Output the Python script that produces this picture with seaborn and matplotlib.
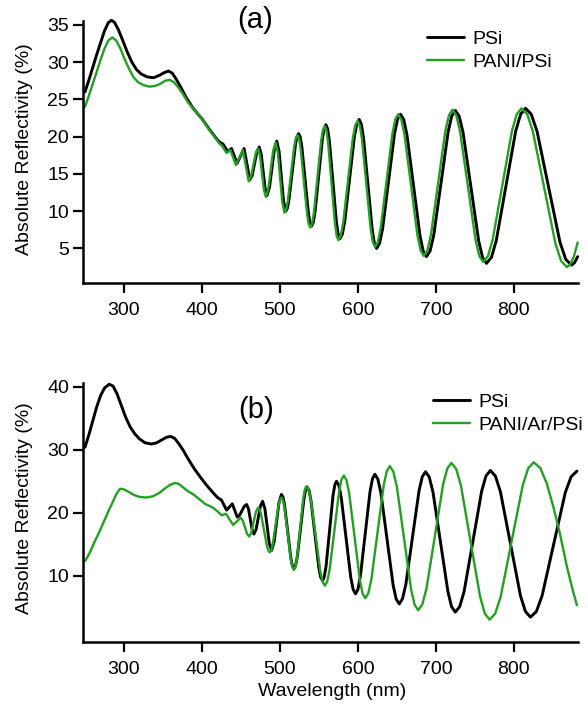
import matplotlib
matplotlib.use('Agg')
import matplotlib.pyplot as plt
import seaborn as sns

# (wavelength nm, reflectivity %)
a_psi = [
    (250, 26.0), (255, 27.6), (260, 29.3), (265, 31.0), (270, 32.6), (275, 34.2), (280, 35.3), (284, 35.6),
    (288, 35.3), (293, 34.3), (298, 33.0), (304, 31.4), (310, 30.0), (316, 29.0), (322, 28.4), (330, 28.0),
    (338, 27.9), (345, 28.2), (352, 28.6), (357, 28.8), (362, 28.5), (367, 27.7), (373, 26.6), (380, 25.2),
    (388, 23.9), (395, 23.0), (400, 22.4), (410, 20.9), (418, 19.8), (422, 19.3), (427, 19.0),
    (433, 18.0), (438, 18.4), (441.5, 17.4), (445, 16.4), (449.5, 17.4), (454, 18.4), (457.7, 16.3), (461.5, 14.2),
    (464.5, 14.8), (467.5, 16.4), (470.5, 18.0), (473.5, 18.6),
    (476, 17.65), (478.5, 15.35), (481, 13.05), (483.5, 12.1),
    (486.6, 13.17), (489.8, 15.75), (492.9, 18.33), (496, 19.4),
    (498.9, 18.03), (501.8, 14.7), (504.6, 11.37), (507.5, 10.0),
    (509.6, 10.4), (511.6, 11.52), (515.8, 15.2), (519.9, 18.88), (521.9, 20.0), (524, 20.4),
    (526.1, 19.93), (528.2, 18.59), (532.3, 14.2), (536.5, 9.81), (538.5, 8.47), (540.6, 8.0),
    (542.9, 8.52), (545.2, 9.99), (549.8, 14.8), (554.4, 19.61), (556.7, 21.08), (559, 21.6),
    (561.3, 21.02), (563.5, 19.37), (568, 13.95), (572.5, 8.53), (574.8, 6.88), (577, 6.3),
    (580.1, 6.91), (583.2, 8.64), (589.4, 14.3), (595.5, 19.96), (598.6, 21.69), (601.7, 22.3),
    (604.5, 21.64), (607.3, 19.77), (612.9, 13.65), (618.4, 7.53), (621.2, 5.66), (624, 5.0),
    (627.8, 5.68), (631.7, 7.63), (639.4, 14.0), (647, 20.37), (650.9, 22.32), (654.7, 23.0),
    (658.9, 22.27), (663, 20.21), (671.4, 13.45), (679.7, 6.69), (683.8, 4.63), (688, 3.9),
    (692.6, 4.64), (697.3, 6.76), (706.5, 13.7), (715.8, 20.64), (720.4, 22.76), (725, 23.5),
    (730, 22.72), (735, 20.51), (745, 13.25), (755, 5.99), (760, 3.78), (765, 3.0),
    (771.3, 3.79), (777.5, 6.04), (790, 13.4), (802.5, 20.76), (808.8, 23.01), (815, 23.8),
    (822.4, 23.0), (829.8, 20.73), (844.5, 13.28), (859.3, 5.82), (866.6, 3.55), (874, 2.75),
    (878, 3.1), (882, 3.9),
]

a_pani = [
    (250, 24.0), (255, 25.5), (260, 27.1), (265, 28.7), (270, 30.3), (275, 31.8), (280, 32.9), (285, 33.3),
    (290, 32.9), (295, 31.9), (300, 30.6), (306, 29.2), (312, 28.0), (318, 27.3), (325, 26.9), (333, 26.7),
    (340, 26.8), (347, 27.1), (353, 27.5), (359, 27.6), (364, 27.3), (369, 26.7), (375, 25.8), (382, 24.6),
    (390, 23.6), (397, 22.8), (403, 21.9), (410, 20.8), (418, 19.7), (422, 19.1), (425.5, 18.8),
    (431.5, 17.8), (436.5, 18.2), (440, 17.2), (443.5, 16.2), (448, 17.2), (452.5, 18.2), (456.3, 16.1), (460, 14.0),
    (463, 14.64), (466, 16.2), (469, 17.76), (472, 18.4),
    (474.5, 17.45), (477, 15.15), (479.5, 12.85), (482, 11.9),
    (485.1, 12.97), (488.3, 15.55), (491.4, 18.13), (494.5, 19.2),
    (497.4, 17.83), (500.3, 14.5), (503.1, 11.17), (506, 9.8),
    (508.1, 10.2), (510.1, 11.32), (514.3, 15.0), (518.4, 18.68), (520.4, 19.8), (522.5, 20.2),
    (524.6, 19.73), (526.6, 18.39), (530.8, 14.0), (534.9, 9.61), (536.9, 8.27), (539, 7.8),
    (541.3, 8.32), (543.6, 9.79), (548.3, 14.6), (552.9, 19.41), (555.2, 20.88), (557.5, 21.4),
    (559.7, 20.82), (561.9, 19.17), (566.3, 13.75), (570.6, 8.33), (572.8, 6.68), (575, 6.1),
    (578.1, 6.71), (581.2, 8.44), (587.4, 14.1), (593.5, 19.76), (596.6, 21.49), (599.7, 22.1),
    (602.5, 21.46), (605.3, 19.63), (610.9, 13.65), (616.4, 7.67), (619.2, 5.84), (622, 5.2),
    (625.7, 5.88), (629.4, 7.8), (636.9, 14.1), (644.3, 20.4), (648, 22.32), (651.7, 23.0),
    (655.8, 22.28), (659.9, 20.23), (668.2, 13.5), (676.4, 6.77), (680.5, 4.72), (684.6, 4.0),
    (689.2, 4.74), (693.8, 6.86), (703, 13.8), (712.2, 20.74), (716.8, 22.86), (721.4, 23.6),
    (726.3, 22.82), (731.2, 20.62), (741.1, 13.4), (750.9, 6.18), (755.8, 3.98), (760.7, 3.2),
    (766.9, 3.98), (773, 6.21), (785.4, 13.5), (797.7, 20.79), (803.8, 23.02), (810, 23.8),
    (817.3, 22.99), (824.5, 20.69), (839, 13.15), (853.5, 5.61), (860.8, 3.31), (868, 2.5),
    (872, 2.8), (877, 3.9), (882, 5.8),
]

b_psi = [
    (250, 30.4), (255, 32.4), (260, 34.6), (265, 36.8), (270, 38.6), (275, 39.8), (281, 40.4), (286, 40.1),
    (291, 38.9), (296, 37.2), (302, 35.2), (308, 33.6), (314, 32.5), (320, 31.7), (327, 31.1), (335, 30.9),
    (342, 31.1), (349, 31.6), (355, 32.0), (360, 32.1), (365, 31.8), (370, 31.0), (376, 29.9), (382, 28.6),
    (390, 27.0), (397, 25.8), (405, 24.5), (414, 23.2), (420, 22.4), (425, 22.0),
    (428.3, 21.2), (431.6, 20.4), (435.3, 20.9), (438.9, 21.4), (442.1, 20.35), (445.3, 19.3),
    (448.3, 19.59), (451.3, 20.3), (454.3, 21.01), (457.3, 21.3),
    (459.7, 20.61), (462, 18.95), (464.4, 17.29), (466.7, 16.6),
    (469.5, 17.36), (472.3, 19.2), (475, 21.04), (477.8, 21.8),
    (480.7, 20.66), (483.6, 17.9), (486.4, 15.14), (489.3, 14.0),
    (492.5, 15.3), (495.7, 18.45), (498.8, 21.6), (502, 22.9),
    (504, 22.45), (506, 21.18), (510, 17.0), (514, 12.82), (516, 11.55), (518, 11.1),
    (520.1, 11.59), (522.3, 12.99), (526.5, 17.58), (530.8, 22.16), (532.9, 23.56), (535, 24.05),
    (537.5, 23.49), (539.9, 21.88), (544.9, 16.63), (549.8, 11.37), (552.2, 9.76), (554.7, 9.2),
    (556.9, 9.8), (559.2, 11.51), (563.7, 17.1), (568.1, 22.69), (570.4, 24.4), (572.6, 25.0),
    (575.7, 24.32), (578.7, 22.39), (584.8, 16.05), (590.9, 9.71), (594, 7.78), (597, 7.1),
    (600.1, 7.82), (603.2, 9.87), (609.4, 16.6), (615.6, 23.33), (618.7, 25.38), (621.8, 26.1),
    (625.7, 25.32), (629.6, 23.09), (637.4, 15.8), (645.2, 8.51), (649.1, 6.28), (653, 5.5),
    (657.2, 6.3), (661.5, 8.57), (669.9, 16.0), (678.4, 23.43), (682.6, 25.7), (686.8, 26.5),
    (691.6, 25.65), (696.4, 23.24), (705.9, 15.35), (715.5, 7.46), (720.2, 5.05), (725, 4.2),
    (730.6, 5.06), (736.3, 7.49), (747.5, 15.45), (758.8, 23.42), (764.4, 25.85), (770, 26.7),
    (776.4, 25.81), (782.9, 23.3), (795.7, 15.05), (808.6, 6.8), (815, 4.29), (821.4, 3.4),
    (828.9, 4.28), (836.3, 6.79), (851.2, 15.0), (866.1, 23.21), (873.6, 25.72), (881, 26.6),
]

b_pani = [
    (250, 12.3), (256, 13.6), (262, 15.3), (269, 17.1), (275, 18.8), (281, 20.5), (286, 21.8), (290, 22.9),
    (295, 23.8), (300, 23.7), (306, 23.3), (313, 22.8), (320, 22.5), (329, 22.4), (337, 22.6), (345, 23.1),
    (352, 23.8), (359, 24.4), (365, 24.7), (370, 24.6), (376, 24.0), (382, 23.4), (389, 22.9), (396, 22.2),
    (404, 21.4), (414, 20.8), (420, 20.2), (425, 19.6), (431, 19.8),
    (435.5, 18.9), (440, 18.05), (444.8, 18.6), (449.5, 19.2),
    (452.3, 18.76), (455.1, 17.7), (457.8, 16.64), (460.6, 16.2),
    (463.5, 16.87), (466.3, 18.5), (469.2, 20.13), (472, 20.8),
    (473.9, 20.53), (475.8, 19.76), (479.5, 17.25), (483.3, 14.74), (485.1, 13.97), (487, 13.7),
    (488.9, 14.03), (490.8, 14.97), (494.5, 18.05), (498.3, 21.13), (500.1, 22.07), (502, 22.4),
    (504, 21.96), (506, 20.72), (510, 16.65), (514, 12.58), (516, 11.34), (518, 10.9),
    (520, 11.41), (522, 12.84), (526, 17.55), (530, 22.26), (532, 23.69), (534, 24.2),
    (537, 23.6), (539.9, 21.89), (545.9, 16.3), (551.8, 10.71), (554.7, 9.0), (557.7, 8.4),
    (560.7, 9.07), (563.8, 10.96), (569.9, 17.15), (575.9, 23.35), (579, 25.24), (582, 25.9),
    (585.4, 25.16), (588.9, 23.05), (595.8, 16.15), (602.6, 9.25), (606.1, 7.14), (609.5, 6.4),
    (613.4, 7.2), (617.4, 9.47), (625.3, 16.9), (633.1, 24.33), (637.1, 26.6), (641, 27.4),
    (645.5, 26.53), (650.1, 24.06), (659.2, 15.95), (668.2, 7.84), (672.8, 5.37), (677.3, 4.5),
    (682.6, 5.39), (688, 7.92), (698.7, 16.2), (709.3, 24.48), (714.7, 27.01), (720, 27.9),
    (726.1, 26.95), (732.3, 24.26), (744.5, 15.45), (756.8, 6.64), (762.9, 3.95), (769, 3.0),
    (776.1, 3.95), (783.2, 6.65), (797.3, 15.5), (811.5, 24.35), (818.5, 27.05), (825.6, 28.0),
    (834, 27.1), (842.4, 24.6), (851, 20.8), (859, 16.8), (868, 11.5), (875.8, 7.6), (881, 5.3),
]

x_ticks = [300, 400, 500, 600, 700, 800]
y_ticks_a = [5, 10, 15, 20, 25, 30, 35]
y_ticks_b = [10, 20, 30, 40]

BLACK = '#000000'
GREEN = '#22a022'

sns.set_style('ticks')
plt.rcParams['font.family'] = ['Liberation Sans', 'DejaVu Sans']
# seaborn greys the text/spines, the original is plain black
plt.rcParams.update({'text.color': 'k', 'axes.labelcolor': 'k', 'axes.edgecolor': 'k',
                     'xtick.color': 'k', 'ytick.color': 'k'})

fig = plt.figure(figsize=(5.88, 7.04), dpi=100)
ax_a = fig.add_axes([0.1406, 0.5984, 0.8419, 0.3717])
ax_b = fig.add_axes([0.1406, 0.0885, 0.8419, 0.3675])


def draw(ax, psi, pani, pani_label):
    x1, y1 = zip(*psi)
    x2, y2 = zip(*pani)
    sns.lineplot(x=list(x1), y=list(y1), ax=ax, color=BLACK, lw=2.1, label='PSi',
                 sort=False, estimator=None)
    sns.lineplot(x=list(x2), y=list(y2), ax=ax, color=GREEN, lw=1.7, label=pani_label,
                 sort=False, estimator=None)
    for ln in ax.lines:
        ln.set_clip_on(False)
    ax.set_xlim(247, 882)
    ax.set_xticks(x_ticks)
    for s in ['top', 'right']:
        ax.spines[s].set_visible(False)
    for s in ['left', 'bottom']:
        ax.spines[s].set_linewidth(1.8)
        ax.spines[s].set_color('k')
    ax.tick_params(axis='both', direction='out', length=7.2, width=1.6, labelsize=14,
                   color='k', labelcolor='k')
    ax.tick_params(axis='x', pad=7)
    ax.tick_params(axis='y', pad=2.5)
    ax.set_ylabel('Absolute Reflectivity (%)', fontsize=14, color='k')
    ax.set_xlabel('')


draw(ax_a, a_psi, a_pani, 'PANI/PSi')
ax_a.set_ylim(0.4, 35.5)
ax_a.set_yticks(y_ticks_a)
ax_a.yaxis.set_label_coords(-0.100, 0.51)
ax_a.legend(loc='upper left', bbox_to_anchor=(0.7257, 0.9575), bbox_transform=fig.transFigure,
            frameon=False, fontsize=14, handlelength=1.9, handletextpad=0.45,
            labelspacing=0.3, borderpad=0, borderaxespad=0, labelcolor='k')

draw(ax_b, b_psi, b_pani, 'PANI/Ar/PSi')
ax_b.set_ylim(-0.5, 40.6)
ax_b.set_yticks(y_ticks_b)
ax_b.yaxis.set_label_coords(-0.100, 0.515)
ax_b.set_xlabel('Wavelength (nm)', fontsize=14, color='k')
ax_b.xaxis.set_label_coords(0.504, -0.158)
ax_b.legend(loc='upper left', bbox_to_anchor=(0.7364, 0.4418), bbox_transform=fig.transFigure,
            frameon=False, fontsize=14, handlelength=1.9, handletextpad=0.45,
            labelspacing=0.3, borderpad=0, borderaxespad=0, labelcolor='k')

fig.text(0.434, 0.9716, '(a)', fontsize=21, ha='center', va='center', color='k')
fig.text(0.435, 0.4176, '(b)', fontsize=21, ha='center', va='center', color='k')

fig.savefig('out.png', dpi=100)
